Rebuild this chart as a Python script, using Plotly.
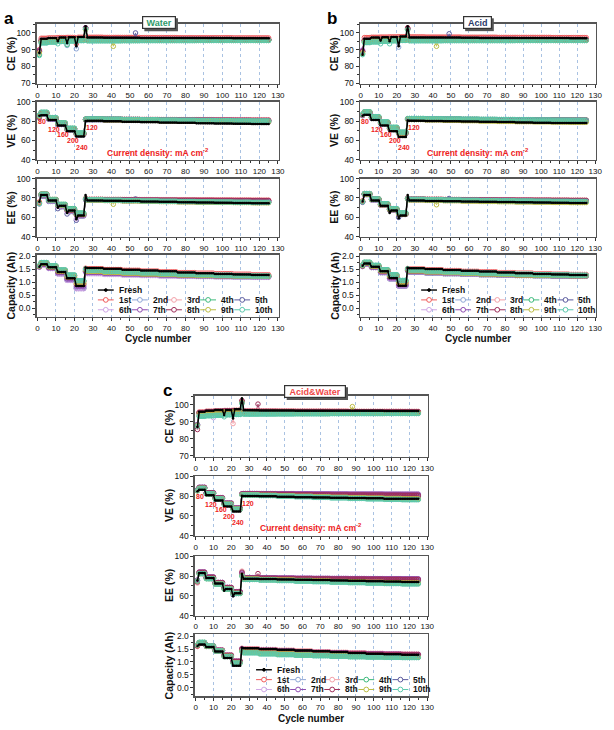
import plotly.graph_objects as go

W, H = 614, 730
cycles = list(range(1, 126))
names = ["Fresh", "1st", "2nd", "3rd", "4th", "5th", "6th", "7th", "8th", "9th", "10th"]
colors = ["#000000", "#f05a5a", "#8ea6d6", "#f2a0a8", "#3dba7c", "#5a5a9e",
          "#cfa6e6", "#8e4cb0", "#9e2f5a", "#bdbd45", "#5cc9ad"]
# segment starts (cycle 1, 2-5, 6-10, 11-15, 16-20, 21-25, 26, 27-35, 36-45 ... 116-125)
seg_start = [1, 2, 6, 11, 16, 21, 26, 27, 36, 46, 56, 66, 76, 86, 96, 106, 116]

# ---------------- Panel a (Water) ----------------
a_ce = [
    [88.0, 96.5, 97.0, 97.2, 97.4, 97.6, 104.0, 97.2, 97.1, 97.1, 97.0, 97.0, 96.9, 96.9, 96.9, 96.8, 96.8],
    [90.0, 96.8, 97.0, 97.2, 97.3, 97.4, 103.0, 97.4, 97.3, 97.3, 97.2, 97.2, 97.1, 97.1, 97.1, 97.0, 97.0],
    [89.0, 95.5, 96.0, 96.2, 96.4, 96.5, 103.0, 96.2, 96.2, 96.1, 96.1, 96.1, 96.0, 96.0, 96.0, 96.0, 95.9],
    [88.5, 95.8, 96.3, 96.5, 96.7, 96.8, 102.5, 96.6, 96.6, 96.5, 96.5, 96.5, 96.4, 96.4, 96.4, 96.3, 96.3],
    [87.0, 94.3, 94.7, 95.0, 95.3, 95.5, 102.0, 95.4, 95.4, 95.4, 95.5, 95.5, 95.5, 95.5, 95.5, 95.5, 95.5],
    [89.0, 95.0, 95.5, 95.8, 96.0, 96.1, 103.0, 96.0, 96.0, 96.0, 95.9, 95.9, 95.9, 95.9, 95.8, 95.8, 95.8],
    [88.0, 94.8, 95.3, 95.6, 95.9, 96.0, 102.0, 95.8, 95.8, 95.8, 95.8, 95.8, 95.8, 95.7, 95.7, 95.7, 95.7],
    [89.5, 95.2, 95.7, 96.0, 96.2, 96.3, 103.0, 96.1, 96.1, 96.1, 96.0, 96.0, 96.0, 96.0, 96.0, 95.9, 95.9],
    [89.0, 95.5, 96.0, 96.2, 96.4, 96.5, 103.0, 96.3, 96.3, 96.3, 96.2, 96.2, 96.2, 96.2, 96.1, 96.1, 96.1],
    [88.0, 94.8, 95.2, 95.5, 95.8, 96.0, 102.0, 95.7, 95.7, 95.7, 95.7, 95.6, 95.6, 95.6, 95.6, 95.6, 95.6],
    [86.5, 94.0, 94.5, 94.9, 95.2, 95.4, 102.5, 95.3, 95.3, 95.4, 95.4, 95.4, 95.4, 95.5, 95.5, 95.5, 95.5],
]
a_ce_marks = [(0, 11, 95.0), (0, 16, 94.0), (0, 21, 92.0), (2, 16, 92.5), (2, 21, 90.5),
              (10, 11, 93.5), (4, 16, 93.0), (1, 21, 93.5), (5, 53, 100.0), (9, 41, 92.0)]
a_ve = [
    [85.5, 86.0, 81.0, 75.5, 69.5, 64.0, 80.0, 80.2, 79.8, 79.4, 79.0, 78.6, 78.2, 77.8, 77.5, 77.2, 77.0],
    [84.0, 88.0, 82.5, 77.0, 71.5, 66.5, 81.5, 81.8, 81.7, 81.6, 81.5, 81.4, 81.3, 81.2, 81.2, 81.1, 81.0],
    [84.0, 88.5, 83.0, 77.5, 72.0, 67.0, 81.5, 81.8, 81.6, 81.4, 81.2, 81.0, 80.8, 80.7, 80.6, 80.5, 80.4],
    [85.0, 88.5, 83.0, 77.8, 72.3, 67.5, 82.0, 82.0, 81.9, 81.8, 81.7, 81.6, 81.5, 81.5, 81.4, 81.4, 81.3],
    [86.0, 89.0, 83.5, 78.0, 72.5, 67.5, 82.0, 82.2, 81.8, 81.4, 81.0, 80.7, 80.4, 80.2, 80.0, 79.9, 79.8],
    [83.0, 87.5, 82.0, 76.5, 71.0, 66.0, 81.0, 81.3, 81.0, 80.7, 80.4, 80.1, 79.8, 79.6, 79.4, 79.2, 79.0],
    [83.5, 88.0, 82.5, 77.0, 71.5, 66.5, 81.5, 81.6, 81.4, 81.2, 81.0, 80.8, 80.6, 80.5, 80.4, 80.3, 80.2],
    [84.0, 88.0, 82.5, 77.2, 71.8, 66.8, 81.6, 81.8, 81.6, 81.4, 81.2, 81.0, 80.9, 80.8, 80.7, 80.6, 80.5],
    [84.5, 88.3, 82.8, 77.4, 72.0, 67.0, 81.8, 82.0, 81.8, 81.6, 81.4, 81.2, 81.1, 81.0, 80.9, 80.8, 80.7],
    [85.0, 88.5, 83.0, 77.5, 72.0, 67.0, 81.5, 81.6, 81.2, 80.8, 80.5, 80.2, 79.9, 79.7, 79.5, 79.3, 79.2],
    [86.0, 89.0, 83.5, 78.0, 72.5, 67.8, 82.0, 82.3, 82.0, 81.7, 81.4, 81.1, 80.9, 80.7, 80.5, 80.3, 80.2],
]
a_ee = [
    [76.0, 83.0, 77.5, 72.0, 67.0, 62.0, 83.0, 77.5, 77.2, 76.8, 76.4, 76.0, 75.6, 75.3, 75.0, 74.8, 74.6],
    [76.0, 84.0, 78.0, 72.5, 68.0, 63.5, 79.0, 78.5, 78.4, 78.3, 78.2, 78.1, 78.0, 77.9, 77.8, 77.7, 77.6],
    [75.0, 83.5, 78.0, 72.5, 68.0, 63.0, 79.0, 78.2, 78.0, 77.8, 77.6, 77.4, 77.2, 77.0, 76.9, 76.8, 76.7],
    [75.0, 84.0, 78.5, 73.0, 68.5, 64.0, 80.0, 78.6, 78.5, 78.4, 78.3, 78.2, 78.1, 78.0, 77.9, 77.8, 77.7],
    [74.5, 84.0, 78.5, 73.5, 69.0, 64.5, 79.0, 78.3, 78.0, 77.6, 77.3, 77.0, 76.7, 76.5, 76.3, 76.1, 76.0],
    [74.0, 82.0, 76.5, 71.0, 66.0, 61.5, 78.0, 77.8, 77.5, 77.2, 76.9, 76.6, 76.3, 76.0, 75.8, 75.6, 75.4],
    [74.0, 82.5, 77.0, 71.5, 66.5, 62.0, 78.0, 78.0, 77.8, 77.6, 77.4, 77.2, 77.0, 76.8, 76.7, 76.6, 76.5],
    [75.0, 83.0, 77.5, 72.0, 67.0, 62.5, 78.5, 78.2, 78.0, 77.8, 77.6, 77.4, 77.3, 77.2, 77.1, 77.0, 76.9],
    [75.0, 83.5, 78.0, 72.5, 67.5, 63.0, 79.0, 78.4, 78.2, 78.0, 77.9, 77.8, 77.7, 77.6, 77.5, 77.4, 77.3],
    [75.0, 83.5, 78.0, 72.5, 68.0, 63.0, 79.0, 77.8, 77.4, 77.0, 76.6, 76.3, 76.0, 75.7, 75.5, 75.3, 75.1],
    [74.0, 83.5, 78.0, 73.0, 68.5, 64.0, 79.0, 78.2, 77.8, 77.4, 77.0, 76.7, 76.4, 76.1, 75.9, 75.7, 75.5],
]
a_ee_marks = [(0, 11, 70.0), (0, 16, 64.5), (0, 21, 58.0), (5, 11, 69.0), (5, 16, 63.5),
              (5, 21, 57.0), (6, 21, 58.5), (9, 41, 73.5), (5, 53, 79.0)]
a_cap = [
    [1.60, 1.69, 1.58, 1.40, 1.15, 0.85, 1.57, 1.55, 1.52, 1.48, 1.45, 1.42, 1.38, 1.35, 1.32, 1.30, 1.28],
    [1.62, 1.74, 1.62, 1.45, 1.25, 1.02, 1.54, 1.52, 1.49, 1.46, 1.43, 1.40, 1.37, 1.35, 1.33, 1.31, 1.29],
    [1.60, 1.70, 1.56, 1.36, 1.12, 0.80, 1.42, 1.36, 1.33, 1.31, 1.29, 1.27, 1.25, 1.24, 1.23, 1.22, 1.21],
    [1.63, 1.75, 1.62, 1.46, 1.27, 1.04, 1.52, 1.48, 1.45, 1.42, 1.39, 1.37, 1.34, 1.32, 1.30, 1.28, 1.27],
    [1.64, 1.76, 1.63, 1.47, 1.27, 1.05, 1.50, 1.45, 1.41, 1.38, 1.35, 1.32, 1.30, 1.28, 1.26, 1.24, 1.23],
    [1.58, 1.68, 1.54, 1.33, 1.08, 0.76, 1.40, 1.35, 1.32, 1.30, 1.28, 1.26, 1.24, 1.23, 1.22, 1.21, 1.20],
    [1.58, 1.67, 1.53, 1.32, 1.07, 0.75, 1.38, 1.33, 1.30, 1.28, 1.26, 1.24, 1.23, 1.22, 1.21, 1.20, 1.19],
    [1.60, 1.70, 1.56, 1.37, 1.13, 0.85, 1.42, 1.38, 1.35, 1.32, 1.30, 1.28, 1.26, 1.25, 1.24, 1.23, 1.22],
    [1.61, 1.72, 1.59, 1.41, 1.19, 0.92, 1.46, 1.42, 1.39, 1.36, 1.33, 1.31, 1.29, 1.27, 1.26, 1.25, 1.24],
    [1.62, 1.73, 1.60, 1.43, 1.21, 0.96, 1.47, 1.42, 1.38, 1.35, 1.32, 1.30, 1.28, 1.26, 1.25, 1.24, 1.23],
    [1.64, 1.76, 1.63, 1.47, 1.28, 1.06, 1.51, 1.46, 1.42, 1.39, 1.36, 1.33, 1.31, 1.29, 1.27, 1.25, 1.24],
]

# ---------------- Panel b (Acid) ----------------
b_ce = [
    [87.0, 96.5, 97.2, 97.4, 97.5, 97.8, 104.0, 97.3, 97.2, 97.2, 97.1, 97.0, 97.0, 96.9, 96.9, 96.9, 96.8],
    [89.0, 97.2, 97.4, 97.5, 97.6, 97.7, 103.0, 97.6, 97.5, 97.5, 97.4, 97.4, 97.3, 97.3, 97.3, 97.2, 97.2],
    [89.0, 95.5, 96.0, 96.3, 96.5, 96.6, 102.5, 96.3, 96.3, 96.2, 96.2, 96.1, 96.1, 96.1, 96.0, 96.0, 96.0],
    [88.5, 96.0, 96.5, 96.7, 96.8, 96.9, 102.5, 96.7, 96.6, 96.6, 96.5, 96.5, 96.5, 96.4, 96.4, 96.4, 96.3],
    [87.5, 94.5, 94.8, 95.1, 95.4, 95.6, 102.0, 95.5, 95.5, 95.5, 95.5, 95.5, 95.5, 95.5, 95.5, 95.5, 95.5],
    [89.0, 95.2, 95.6, 95.9, 96.1, 96.2, 102.5, 96.0, 96.0, 96.0, 95.9, 95.9, 95.9, 95.9, 95.9, 95.8, 95.8],
    [90.0, 95.0, 95.4, 95.7, 95.9, 96.0, 102.0, 95.8, 95.8, 95.8, 95.8, 95.7, 95.7, 95.7, 95.7, 95.7, 95.7],
    [89.5, 95.3, 95.8, 96.0, 96.2, 96.3, 102.5, 96.1, 96.1, 96.1, 96.0, 96.0, 96.0, 96.0, 96.0, 95.9, 95.9],
    [89.0, 95.6, 96.0, 96.3, 96.4, 96.5, 103.0, 96.3, 96.3, 96.2, 96.2, 96.2, 96.2, 96.1, 96.1, 96.1, 96.1],
    [88.0, 94.8, 95.2, 95.6, 95.8, 96.0, 102.0, 95.7, 95.7, 95.7, 95.6, 95.6, 95.6, 95.6, 95.6, 95.6, 95.6],
    [87.0, 94.2, 94.6, 95.0, 95.3, 95.5, 102.0, 95.3, 95.3, 95.4, 95.4, 95.4, 95.4, 95.5, 95.5, 95.5, 95.5],
]
b_ce_marks = [(0, 11, 95.5), (0, 16, 95.0), (0, 21, 92.0), (10, 11, 93.5), (10, 16, 93.5),
              (2, 21, 91.5), (5, 49, 99.5), (9, 42, 92.0)]
b_ve = [
    [85.5, 86.5, 81.0, 75.5, 69.5, 63.5, 80.5, 80.4, 80.1, 79.8, 79.5, 79.2, 78.9, 78.6, 78.3, 78.1, 77.9],
    [86.0, 88.5, 83.5, 78.0, 72.5, 67.5, 82.0, 82.0, 81.8, 81.6, 81.4, 81.3, 81.2, 81.1, 81.0, 80.9, 80.8],
    [86.0, 88.5, 83.5, 78.0, 72.8, 67.8, 82.0, 82.1, 81.9, 81.7, 81.5, 81.3, 81.1, 81.0, 80.9, 80.8, 80.7],
    [86.5, 89.0, 84.0, 78.5, 73.0, 68.0, 82.3, 82.3, 82.1, 81.9, 81.7, 81.6, 81.5, 81.4, 81.3, 81.2, 81.1],
    [87.0, 89.5, 84.5, 79.0, 73.5, 68.5, 82.5, 82.6, 82.3, 82.0, 81.7, 81.5, 81.3, 81.1, 81.0, 80.9, 80.8],
    [85.5, 88.0, 83.0, 77.5, 72.0, 67.0, 81.5, 81.7, 81.4, 81.1, 80.8, 80.5, 80.3, 80.1, 79.9, 79.8, 79.7],
    [86.0, 88.5, 83.3, 77.8, 72.3, 67.3, 81.8, 81.9, 81.7, 81.5, 81.3, 81.1, 80.9, 80.8, 80.7, 80.6, 80.5],
    [86.0, 88.7, 83.5, 78.0, 72.5, 67.5, 82.0, 82.0, 81.8, 81.6, 81.4, 81.2, 81.1, 81.0, 80.9, 80.8, 80.7],
    [86.5, 89.0, 83.8, 78.3, 72.8, 67.8, 82.2, 82.2, 82.0, 81.8, 81.6, 81.4, 81.3, 81.2, 81.1, 81.0, 80.9],
    [86.5, 89.0, 83.8, 78.2, 72.7, 67.7, 81.8, 81.6, 81.2, 80.8, 80.4, 80.0, 79.7, 79.4, 79.2, 79.0, 78.8],
    [87.0, 89.5, 84.5, 79.0, 73.5, 68.5, 82.5, 82.6, 82.4, 82.2, 82.0, 81.8, 81.6, 81.4, 81.2, 81.0, 80.9],
]
b_ee = [
    [76.5, 83.0, 77.5, 72.0, 67.0, 62.0, 83.0, 77.3, 77.0, 76.7, 76.4, 76.1, 75.8, 75.5, 75.3, 75.1, 74.9],
    [77.0, 84.5, 79.0, 73.5, 68.5, 64.0, 80.0, 78.8, 78.6, 78.4, 78.2, 78.0, 77.9, 77.8, 77.7, 77.6, 77.5],
    [76.0, 84.0, 78.5, 73.0, 68.0, 63.5, 79.5, 78.4, 78.2, 78.0, 77.8, 77.6, 77.4, 77.3, 77.2, 77.1, 77.0],
    [76.5, 84.5, 79.0, 73.5, 68.5, 64.0, 80.0, 78.8, 78.6, 78.4, 78.3, 78.2, 78.1, 78.0, 77.9, 77.8, 77.7],
    [76.0, 84.5, 79.0, 74.0, 69.0, 64.5, 79.5, 78.6, 78.3, 78.0, 77.7, 77.5, 77.3, 77.1, 77.0, 76.9, 76.8],
    [75.5, 83.5, 78.0, 72.5, 67.5, 63.0, 79.0, 78.2, 77.9, 77.6, 77.3, 77.0, 76.8, 76.6, 76.4, 76.3, 76.2],
    [76.0, 83.5, 78.2, 72.8, 67.8, 63.2, 79.0, 78.3, 78.1, 77.9, 77.7, 77.5, 77.3, 77.2, 77.1, 77.0, 76.9],
    [76.0, 84.0, 78.5, 73.0, 68.0, 63.5, 79.5, 78.5, 78.3, 78.1, 77.9, 77.7, 77.6, 77.5, 77.4, 77.3, 77.2],
    [76.5, 84.0, 78.7, 73.2, 68.2, 63.7, 79.5, 78.6, 78.4, 78.2, 78.0, 77.9, 77.8, 77.7, 77.6, 77.5, 77.4],
    [76.5, 84.0, 78.5, 73.0, 68.0, 63.5, 79.0, 78.0, 77.6, 77.2, 76.8, 76.5, 76.2, 75.9, 75.7, 75.5, 75.3],
    [76.0, 84.5, 79.0, 74.0, 69.0, 64.5, 79.5, 78.6, 78.3, 78.0, 77.7, 77.4, 77.2, 77.0, 76.8, 76.6, 76.5],
]
b_ee_marks = [(0, 16, 64.5), (0, 21, 59.0), (5, 21, 60.0), (9, 42, 73.0), (5, 49, 79.5)]
b_cap = [
    [1.64, 1.72, 1.60, 1.42, 1.16, 0.86, 1.56, 1.54, 1.51, 1.47, 1.44, 1.41, 1.38, 1.35, 1.32, 1.30, 1.28],
    [1.65, 1.75, 1.63, 1.46, 1.26, 1.03, 1.53, 1.51, 1.48, 1.45, 1.42, 1.40, 1.37, 1.35, 1.33, 1.31, 1.30],
    [1.62, 1.72, 1.58, 1.39, 1.15, 0.88, 1.45, 1.40, 1.37, 1.34, 1.32, 1.30, 1.28, 1.27, 1.26, 1.25, 1.24],
    [1.65, 1.76, 1.63, 1.46, 1.26, 1.03, 1.52, 1.49, 1.46, 1.43, 1.40, 1.38, 1.35, 1.33, 1.31, 1.30, 1.29],
    [1.66, 1.77, 1.65, 1.48, 1.28, 1.06, 1.51, 1.47, 1.43, 1.40, 1.37, 1.34, 1.32, 1.30, 1.28, 1.27, 1.26],
    [1.61, 1.71, 1.57, 1.37, 1.13, 0.85, 1.44, 1.39, 1.36, 1.33, 1.31, 1.29, 1.27, 1.26, 1.25, 1.24, 1.23],
    [1.61, 1.71, 1.57, 1.38, 1.14, 0.86, 1.44, 1.40, 1.37, 1.34, 1.32, 1.30, 1.28, 1.27, 1.26, 1.25, 1.24],
    [1.62, 1.72, 1.59, 1.40, 1.17, 0.90, 1.46, 1.42, 1.39, 1.36, 1.34, 1.32, 1.30, 1.28, 1.27, 1.26, 1.25],
    [1.63, 1.74, 1.61, 1.43, 1.21, 0.96, 1.48, 1.44, 1.41, 1.38, 1.36, 1.33, 1.31, 1.29, 1.28, 1.27, 1.26],
    [1.64, 1.75, 1.62, 1.44, 1.23, 0.99, 1.49, 1.44, 1.40, 1.37, 1.34, 1.32, 1.30, 1.28, 1.27, 1.26, 1.25],
    [1.66, 1.77, 1.65, 1.48, 1.29, 1.07, 1.52, 1.47, 1.43, 1.40, 1.37, 1.35, 1.33, 1.31, 1.29, 1.28, 1.27],
]

# ---------------- Panel c (Acid&Water) ----------------
c_ce = [
    [87.0, 96.0, 96.5, 97.0, 97.0, 97.5, 104.0, 96.8, 96.7, 96.7, 96.6, 96.6, 96.5, 96.5, 96.5, 96.4, 96.4],
    [88.0, 95.8, 96.2, 96.5, 96.7, 96.8, 102.0, 96.4, 96.3, 96.3, 96.2, 96.2, 96.2, 96.1, 96.1, 96.1, 96.0],
    [88.5, 95.5, 96.0, 96.3, 96.5, 96.6, 102.0, 96.2, 96.1, 96.1, 96.0, 96.0, 96.0, 95.9, 95.9, 95.9, 95.9],
    [87.0, 95.8, 96.3, 96.5, 96.6, 96.7, 102.5, 96.5, 96.4, 96.4, 96.3, 96.3, 96.3, 96.2, 96.2, 96.2, 96.2],
    [88.0, 93.5, 93.8, 94.0, 94.3, 94.5, 101.0, 94.8, 94.8, 94.9, 94.9, 94.9, 95.0, 95.0, 95.0, 95.0, 95.0],
    [88.5, 95.0, 95.5, 95.8, 96.0, 96.1, 102.0, 95.8, 95.8, 95.8, 95.7, 95.7, 95.7, 95.7, 95.6, 95.6, 95.6],
    [88.0, 94.5, 95.0, 95.3, 95.6, 95.8, 101.5, 95.5, 95.5, 95.5, 95.5, 95.5, 95.5, 95.4, 95.4, 95.4, 95.4],
    [88.5, 95.3, 95.8, 96.0, 96.2, 96.3, 102.0, 96.0, 96.0, 96.0, 95.9, 95.9, 95.9, 95.9, 95.9, 95.8, 95.8],
    [85.5, 95.5, 96.0, 96.3, 96.5, 96.6, 102.5, 96.2, 96.2, 96.1, 96.1, 96.1, 96.0, 96.0, 96.0, 96.0, 96.0],
    [88.0, 94.8, 95.2, 95.5, 95.8, 96.0, 101.5, 95.6, 95.6, 95.6, 95.5, 95.5, 95.5, 95.5, 95.5, 95.5, 95.5],
    [87.5, 93.3, 93.6, 93.9, 94.2, 94.4, 101.0, 94.6, 94.7, 94.7, 94.8, 94.8, 94.9, 94.9, 94.9, 95.0, 95.0],
]
c_ce_marks = [(0, 16, 94.0), (0, 21, 92.0), (10, 16, 93.0), (3, 21, 89.0), (6, 10, 92.5),
              (8, 35, 100.5), (9, 88, 99.0)]
c_ve = [
    [85.0, 86.5, 81.0, 75.5, 69.5, 64.5, 80.5, 80.2, 79.8, 79.4, 79.0, 78.7, 78.4, 78.1, 77.8, 77.5, 77.3],
    [86.0, 88.5, 83.0, 78.0, 72.5, 67.5, 82.0, 81.9, 81.6, 81.3, 81.0, 80.7, 80.5, 80.3, 80.1, 79.9, 79.8],
    [86.0, 88.5, 83.0, 78.0, 72.5, 67.5, 82.0, 82.0, 81.8, 81.6, 81.4, 81.2, 81.0, 80.9, 80.8, 80.7, 80.6],
    [86.5, 88.8, 83.3, 78.3, 72.8, 67.8, 82.3, 82.3, 82.1, 81.9, 81.7, 81.5, 81.3, 81.2, 81.1, 81.0, 80.9],
    [86.0, 88.0, 82.5, 77.5, 72.0, 67.0, 81.5, 81.5, 81.0, 80.5, 80.0, 79.5, 79.0, 78.5, 78.0, 77.5, 77.0],
    [85.5, 88.0, 82.7, 77.7, 72.2, 67.2, 81.8, 81.8, 81.5, 81.2, 80.9, 80.6, 80.4, 80.2, 80.0, 79.9, 79.8],
    [86.5, 89.0, 83.5, 78.5, 73.0, 68.0, 82.5, 82.6, 82.5, 82.4, 82.3, 82.2, 82.1, 82.0, 82.0, 81.9, 81.9],
    [86.5, 89.0, 83.5, 78.5, 73.0, 68.0, 82.5, 82.7, 82.6, 82.5, 82.4, 82.3, 82.2, 82.1, 82.1, 82.0, 82.0],
    [86.0, 88.8, 83.3, 78.2, 72.7, 67.7, 82.2, 82.3, 82.1, 81.9, 81.7, 81.5, 81.3, 81.2, 81.1, 81.0, 80.9],
    [85.5, 88.0, 82.5, 77.5, 72.0, 67.0, 81.5, 81.4, 80.9, 80.4, 79.9, 79.4, 78.9, 78.5, 78.1, 77.7, 77.3],
    [86.0, 88.0, 82.5, 77.3, 71.8, 66.8, 81.3, 81.2, 80.6, 80.0, 79.4, 78.8, 78.2, 77.7, 77.2, 76.8, 76.4],
]
c_ee = [
    [75.5, 83.0, 78.0, 72.5, 67.0, 62.5, 82.0, 77.2, 76.9, 76.6, 76.3, 76.0, 75.6, 75.2, 74.8, 74.4, 74.0],
    [75.0, 83.5, 78.5, 73.0, 68.0, 63.5, 83.0, 77.8, 77.5, 77.2, 76.9, 76.6, 76.3, 76.0, 75.7, 75.5, 75.3],
    [75.5, 83.0, 78.0, 72.5, 67.5, 63.0, 82.0, 77.6, 77.3, 77.0, 76.8, 76.6, 76.4, 76.2, 76.0, 75.9, 75.8],
    [73.0, 84.0, 79.0, 73.5, 68.5, 64.0, 85.0, 78.2, 78.0, 77.8, 77.6, 77.4, 77.2, 77.0, 76.9, 76.8, 76.7],
    [75.0, 82.5, 77.5, 72.0, 67.0, 62.5, 80.0, 76.8, 76.3, 75.8, 75.3, 74.8, 74.3, 73.8, 73.3, 72.9, 72.5],
    [75.5, 83.0, 78.0, 72.5, 67.5, 63.0, 81.5, 77.3, 77.0, 76.7, 76.4, 76.1, 75.9, 75.7, 75.5, 75.3, 75.2],
    [76.0, 84.0, 79.0, 73.5, 68.5, 64.0, 83.0, 78.3, 78.1, 77.9, 77.7, 77.5, 77.4, 77.3, 77.2, 77.1, 77.0],
    [76.0, 84.0, 79.0, 73.5, 68.5, 64.2, 83.0, 78.4, 78.2, 78.0, 77.8, 77.7, 77.6, 77.5, 77.4, 77.3, 77.2],
    [74.0, 83.8, 78.8, 73.3, 68.3, 63.8, 84.0, 78.0, 77.8, 77.6, 77.4, 77.2, 77.0, 76.9, 76.8, 76.7, 76.6],
    [75.0, 82.5, 77.5, 72.0, 67.0, 62.5, 80.5, 77.0, 76.5, 76.0, 75.5, 75.0, 74.5, 74.1, 73.7, 73.3, 73.0],
    [75.0, 82.5, 77.3, 71.8, 66.8, 62.3, 80.0, 76.6, 76.0, 75.4, 74.8, 74.3, 73.8, 73.3, 72.8, 72.4, 72.0],
]
c_ee_marks = [(0, 16, 65.0), (0, 21, 59.5), (8, 35, 82.5), (5, 21, 61.0)]
c_cap = [
    [1.62, 1.67, 1.58, 1.40, 1.15, 0.85, 1.55, 1.53, 1.50, 1.47, 1.44, 1.41, 1.38, 1.35, 1.32, 1.30, 1.28],
    [1.60, 1.73, 1.61, 1.45, 1.26, 1.02, 1.52, 1.50, 1.47, 1.44, 1.41, 1.38, 1.36, 1.34, 1.32, 1.30, 1.29],
    [1.64, 1.74, 1.61, 1.44, 1.24, 1.00, 1.49, 1.46, 1.43, 1.40, 1.37, 1.35, 1.33, 1.31, 1.29, 1.28, 1.27],
    [1.63, 1.74, 1.62, 1.46, 1.27, 1.04, 1.53, 1.51, 1.48, 1.45, 1.42, 1.39, 1.37, 1.35, 1.33, 1.31, 1.30],
    [1.65, 1.75, 1.61, 1.43, 1.22, 0.98, 1.42, 1.37, 1.33, 1.30, 1.27, 1.25, 1.23, 1.21, 1.20, 1.19, 1.18],
    [1.63, 1.73, 1.60, 1.43, 1.23, 0.99, 1.47, 1.44, 1.41, 1.38, 1.35, 1.33, 1.31, 1.29, 1.28, 1.27, 1.26],
    [1.64, 1.74, 1.61, 1.45, 1.25, 1.02, 1.50, 1.47, 1.44, 1.41, 1.38, 1.36, 1.34, 1.32, 1.30, 1.29, 1.28],
    [1.64, 1.74, 1.62, 1.45, 1.26, 1.03, 1.51, 1.48, 1.45, 1.42, 1.39, 1.37, 1.35, 1.33, 1.31, 1.30, 1.29],
    [1.63, 1.74, 1.61, 1.45, 1.25, 1.02, 1.50, 1.47, 1.44, 1.41, 1.38, 1.36, 1.34, 1.32, 1.30, 1.29, 1.28],
    [1.65, 1.75, 1.61, 1.43, 1.22, 0.97, 1.43, 1.38, 1.34, 1.31, 1.28, 1.26, 1.24, 1.22, 1.21, 1.20, 1.19],
    [1.66, 1.76, 1.62, 1.43, 1.21, 0.96, 1.40, 1.35, 1.31, 1.28, 1.26, 1.24, 1.22, 1.20, 1.19, 1.18, 1.17],
]

# current-density labels (text, cycle, VE value)
cd_labels = [("80", 2.5, 80), ("120", 8.8, 71.5), ("160", 14, 66), ("200", 19, 59.5),
             ("240", 24, 53), ("120", 29.5, 73)]

metric_titles = ["CE (%)", "VE (%)", "EE (%)", "Capacity (Ah)"]
y_ranges = [[69.5, 105.5], [40, 100], [40, 100], [-0.33, 2.07]]
y_ticks = [[70, 80, 90, 100], [40, 60, 80, 100], [40, 60, 80, 100], [0, 0.5, 1.0, 1.5, 2.0]]
y_minor = [5, 10, 10, 0.25]

FONT = "Liberation Sans, Arial, sans-serif"

panels = [
    dict(letter="a", title="Water", tcolor="#2f9a6a", tbox=(160, 18, 30),
         x0=36, x1=281, ys=[(19, 80), (98, 157), (176, 235), (253, 316)],
         data=[a_ce, a_ve, a_ee, a_cap], marks=[a_ce_marks, [], a_ee_marks, []]),
    dict(letter="b", title="Acid", tcolor="#2b3a6a", tbox=(482, 18, 25),
         x0=363, x1=602, ys=[(19, 80), (98, 157), (176, 235), (253, 316)],
         data=[b_ce, b_ve, b_ee, b_cap], marks=[b_ce_marks, [], b_ee_marks, []]),
    dict(letter="c", title="Acid&Water", tcolor="#f04848", tbox=(318, 392, 58),
         x0=196, x1=432, ys=[(396, 458), (478, 538), (559, 619), (638, 701)],
         data=[c_ce, c_ve, c_ee, c_cap], marks=[c_ce_marks, [], c_ee_marks, []]),
]


def px_x(p):
    return p / W


def px_y(p):
    return 1 - p / H


def expand(row, marks, s):
    out = []
    for c in cycles:
        k = max(i for i, st in enumerate(seg_start) if st <= c)
        out.append(row[k])
    for (si, c, v) in marks:
        if si == s:
            out[c - 1] = v
    return out


fig = go.Figure()
layout = {}
annotations = []
shapes = []
draw_order = list(range(1, 11)) + [0]

for p, P in enumerate(panels):
    for m in range(4):
        k = p * 4 + m + 1
        xs = "x" if k == 1 else f"x{k}"
        ys = "y" if k == 1 else f"y{k}"
        table = P["data"][m]
        for s in draw_order:
            yv = expand(table[s], P["marks"][m], s)
            if s == 0:
                fig.add_trace(go.Scatter(
                    x=cycles, y=yv, xaxis=xs, yaxis=ys, mode="lines+markers",
                    name=names[s], showlegend=False,
                    line=dict(color="black", width=1.5),
                    marker=dict(symbol="circle", size=2.5, color="black")))
            else:
                fig.add_trace(go.Scatter(
                    x=cycles, y=yv, xaxis=xs, yaxis=ys, mode="lines+markers",
                    name=names[s], showlegend=False,
                    line=dict(color=colors[s], width=0.8),
                    marker=dict(symbol="circle-open", size=4.5, color=colors[s],
                                line=dict(width=1, color=colors[s]))))
        top, bot = P["ys"][m]
        xname = "xaxis" if k == 1 else f"xaxis{k}"
        yname = "yaxis" if k == 1 else f"yaxis{k}"
        layout[xname] = dict(
            domain=[px_x(P["x0"]), px_x(P["x1"])], anchor=ys, range=[-0.5, 130.5],
            tickmode="array", tickvals=list(range(0, 131, 10)),
            ticks="outside", ticklen=3, tickwidth=1, tickcolor="#333",
            minor=dict(dtick=5, ticks="outside", ticklen=2, tickcolor="#333", showgrid=False),
            showline=True, mirror=True, linecolor="#555", linewidth=1.3,
            showgrid=True, gridcolor="#a9c2e2", griddash="dot", gridwidth=1,
            zeroline=False, tickfont=dict(size=8, family=FONT, color="#111"))
        layout[yname] = dict(
            domain=[px_y(bot), px_y(top)], anchor=xs, range=y_ranges[m],
            tickmode="array", tickvals=y_ticks[m],
            tickformat=".1f" if m == 3 else "d",
            ticks="outside", ticklen=3, tickwidth=1, tickcolor="#333",
            minor=dict(dtick=y_minor[m], ticks="outside", ticklen=2, tickcolor="#333",
                       showgrid=False),
            showline=True, mirror=True, linecolor="#555", linewidth=1.3,
            showgrid=False, zeroline=False,
            tickfont=dict(size=8.5, family=FONT, color="#111"))
        annotations.append(dict(
            x=px_x(P["x0"] - 26), y=px_y((top + bot) / 2), xref="paper", yref="paper",
            text=f"<b>{metric_titles[m]}</b>", textangle=-90, showarrow=False,
            font=dict(size=10.5, family=FONT, color="#111"),
            xanchor="center", yanchor="middle"))
        if m == 1:
            for (t, cx, cy) in cd_labels:
                annotations.append(dict(
                    x=cx, y=cy, xref=xs, yref=ys, text=f"<b>{t}</b>", showarrow=False,
                    font=dict(size=7, family=FONT, color="#ee2222"),
                    xanchor="center", yanchor="middle"))
            annotations.append(dict(
                x=65, y=48, xref=xs, yref=ys,
                text="<b>Current density: mA cm<sup>-2</sup></b>", showarrow=False,
                font=dict(size=8.5, family=FONT, color="#ee2222"),
                xanchor="center", yanchor="middle"))

    # x title
    cap_top, cap_bot = P["ys"][3]
    annotations.append(dict(
        x=px_x((P["x0"] + P["x1"]) / 2), y=px_y(cap_bot + 22), xref="paper", yref="paper",
        text="<b>Cycle number</b>", showarrow=False,
        font=dict(size=10, family=FONT, color="#111"),
        xanchor="center", yanchor="middle"))
    # panel letter
    annotations.append(dict(
        x=px_x(P["x0"] - 28), y=px_y(P["ys"][0][0] - 5), xref="paper", yref="paper",
        text=f"<b>{P['letter']}</b>", showarrow=False,
        font=dict(size=17, family=FONT, color="#000"),
        xanchor="center", yanchor="middle"))
    # title box with shadow
    bx, by, bw = P["tbox"]
    bh = 9
    tw, th = bw + 4, bh + 4
    shapes.append(dict(type="rect", xref="paper", yref="paper", layer="above",
                       x0=px_x(bx - tw / 2 + 2), x1=px_x(bx + tw / 2 + 2),
                       y0=px_y(by + th / 2 + 2), y1=px_y(by - th / 2 + 2),
                       fillcolor="#555", line=dict(width=0)))
    annotations.append(dict(
        x=px_x(bx), y=px_y(by), xref="paper", yref="paper",
        text=f"<b>{P['title']}</b>", showarrow=False, width=bw, height=bh,
        bgcolor="white", bordercolor="#333", borderwidth=1.2, borderpad=1,
        font=dict(size=9, family=FONT, color=P["tcolor"]),
        xanchor="center", yanchor="middle"))

    # legend key inside capacity plot
    L = P["x0"]
    rows_y = [cap_bot - 27, cap_bot - 17, cap_bot - 7]
    entries = [(0, L + 62, rows_y[0])]
    for j in range(5):
        entries.append((1 + j, L + 62 + 34.5 * j, rows_y[1]))
        entries.append((6 + j, L + 62 + 34.5 * j, rows_y[2]))
    for (s, cx, cy) in entries:
        col = colors[s]
        shapes.append(dict(type="line", xref="paper", yref="paper", layer="above",
                           x0=px_x(cx), x1=px_x(cx + 16), y0=px_y(cy), y1=px_y(cy),
                           line=dict(color=col, width=1.4 if s == 0 else 1)))
        r = 1.4 if s == 0 else 2.4
        shapes.append(dict(type="circle", xref="paper", yref="paper", layer="above",
                           x0=px_x(cx + 8 - r), x1=px_x(cx + 8 + r),
                           y0=px_y(cy + r), y1=px_y(cy - r),
                           fillcolor="black" if s == 0 else "white",
                           line=dict(color=col, width=1)))
        annotations.append(dict(
            x=px_x(cx + 19), y=px_y(cy), xref="paper", yref="paper",
            text=f"<b>{names[s]}</b>", showarrow=False,
            font=dict(size=8.5, family=FONT, color="#111"),
            xanchor="left", yanchor="middle"))

fig.update_layout(**layout)
fig.update_layout(
    width=W, height=H, margin=dict(l=0, r=0, t=0, b=0),
    paper_bgcolor="white", plot_bgcolor="white", showlegend=False,
    hovermode=False, annotations=annotations, shapes=shapes)
fig.write_html("out.html", config={"displayModeBar": False, "staticPlot": True},
               post_script="document.body.style.margin='0px';"
                           "document.body.style.overflow='hidden';")
